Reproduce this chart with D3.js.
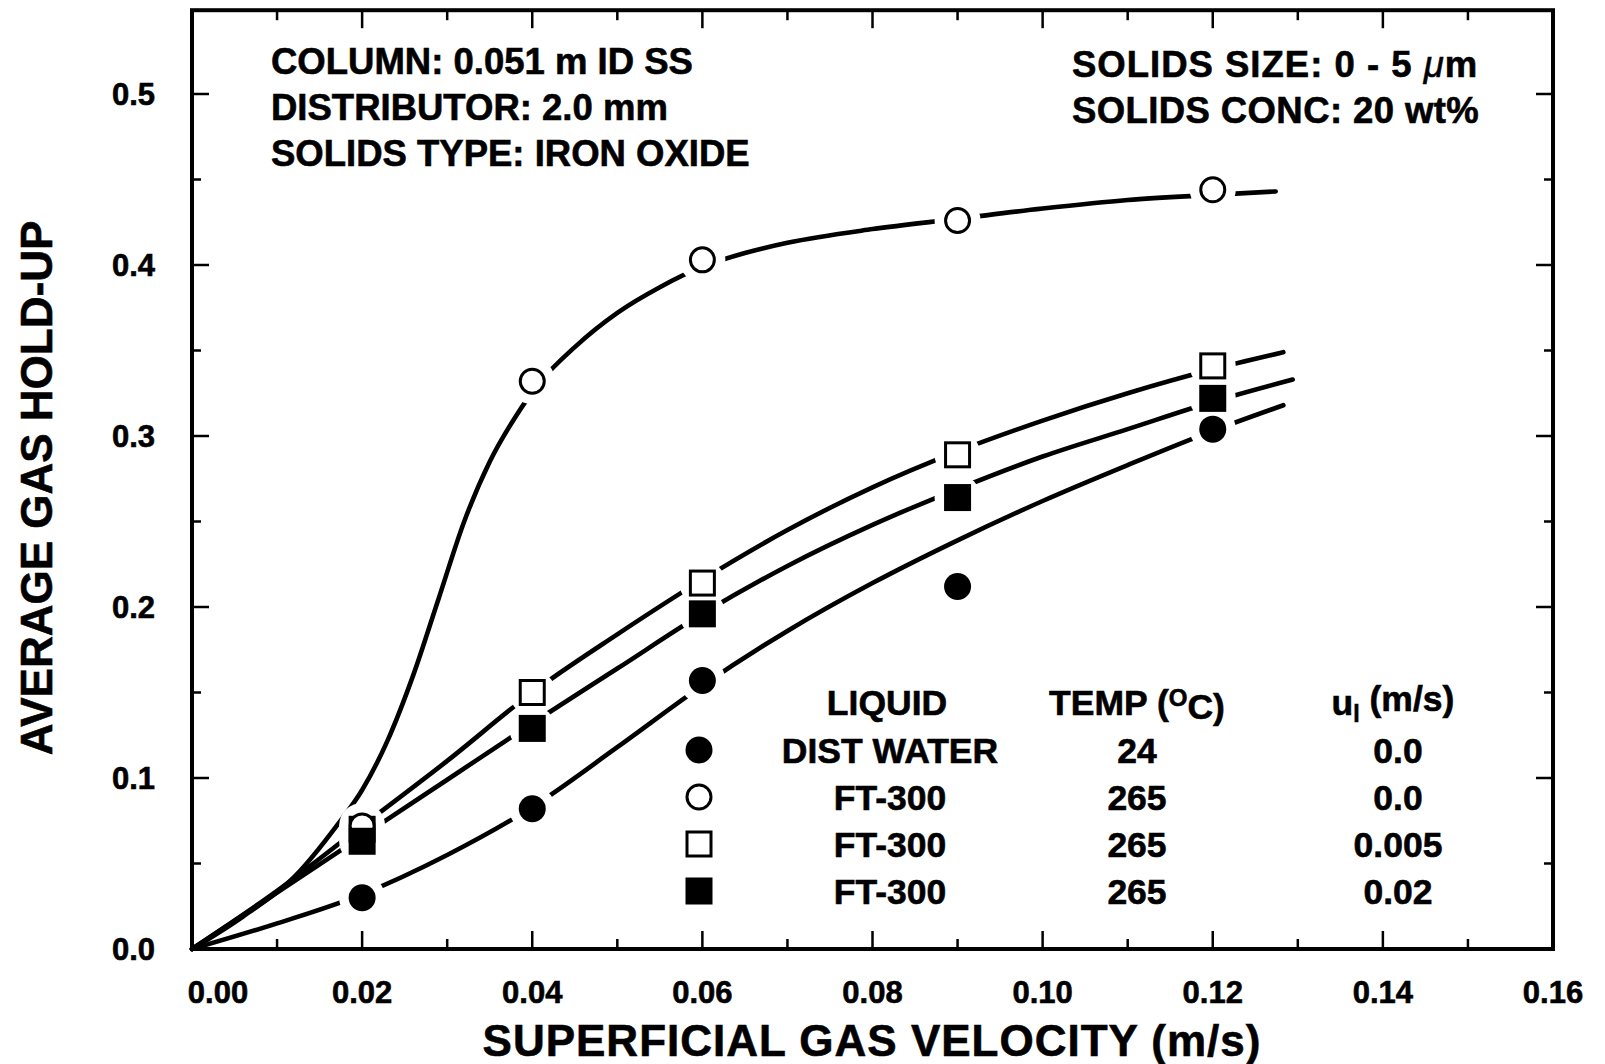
<!DOCTYPE html>
<html>
<head>
<meta charset="utf-8">
<script src="https://cdn.jsdelivr.net/npm/d3@7"></script>
<style>
  body { margin: 0; background: #fff; }
  text { font-family: "Liberation Sans", Arial, Helvetica, sans-serif; font-weight: bold; fill: #000;
         stroke: #000; stroke-width: 0.6px; }
</style>
</head>
<body>
<svg id="chart" width="1605" height="1064"></svg>
<script>
// Measured average gas hold-up at each superficial gas velocity (m/s)
const velocities   = [0.02, 0.04, 0.06, 0.09, 0.12];
const holdupWater  = [0.030, 0.082, 0.157, 0.212, 0.304];   // DIST WATER, 24 C, u_l 0.0
const holdupFt0    = [0.072, 0.332, 0.403, 0.426, 0.444];   // FT-300, 265 C, u_l 0.0
const holdupFt005  = [0.070, 0.150, 0.214, 0.289, 0.341];   // FT-300, 265 C, u_l 0.005
const holdupFt02   = [0.063, 0.129, 0.196, 0.264, 0.322];   // FT-300, 265 C, u_l 0.02

// Smoothed trend lines, [velocity, hold-up]
const fitWater = [[0,0],[0.01,0.015],[0.02,0.032],[0.03,0.055],[0.04,0.083],[0.05,0.118],[0.06,0.154],[0.07,0.186],
  [0.08,0.214],[0.09,0.239],[0.10,0.262],[0.11,0.283],[0.12,0.303],[0.1283,0.318]];
const fitFt0 = [[0,0],[0.006,0.019],[0.012,0.042],[0.017,0.072],[0.02,0.093],[0.023,0.122],[0.026,0.160],[0.029,0.205],
  [0.032,0.250],[0.035,0.285],[0.038,0.311],[0.041,0.332],[0.045,0.352],[0.05,0.372],[0.055,0.387],[0.06,0.399],
  [0.065,0.407],[0.07,0.413],[0.08,0.421],[0.09,0.427],[0.10,0.433],[0.11,0.438],[0.12,0.441],[0.1274,0.443]];
const fitFt005 = [[0,0],[0.01,0.034],[0.02,0.072],[0.03,0.110],[0.04,0.150],[0.05,0.184],[0.06,0.216],[0.07,0.245],
  [0.08,0.270],[0.09,0.291],[0.10,0.309],[0.11,0.325],[0.12,0.339],[0.1283,0.349]];
const fitFt02 = [[0,0],[0.01,0.033],[0.02,0.066],[0.03,0.099],[0.04,0.132],[0.05,0.164],[0.06,0.196],[0.07,0.224],
  [0.08,0.248],[0.09,0.269],[0.10,0.288],[0.11,0.304],[0.12,0.320],[0.1294,0.333]];

// Axis ticks
const xMajorTicks = [0, 0.02, 0.04, 0.06, 0.08, 0.10, 0.12, 0.14, 0.16];
const xMinorTicks = [0.01, 0.03, 0.05, 0.07, 0.09, 0.11, 0.13, 0.15];
const xTickLabels = ["0.00", "0.02", "0.04", "0.06", "0.08", "0.10", "0.12", "0.14", "0.16"];
const yMajorTicks = [0, 0.1, 0.2, 0.3, 0.4, 0.5];
const yMinorTicks = [0.05, 0.15, 0.25, 0.35, 0.45];
const yTickLabels = ["0.0", "0.1", "0.2", "0.3", "0.4", "0.5"];

// Legend table
const legendLiquid = ["DIST WATER", "FT-300", "FT-300", "FT-300"];
const legendTemp   = ["24", "265", "265", "265"];
const legendUl     = ["0.0", "0.0", "0.005", "0.02"];

const series = [
  { values: holdupWater, fit: fitWater, shape: "circle", filled: true },
  { values: holdupFt0,   fit: fitFt0,   shape: "circle", filled: false },
  { values: holdupFt005, fit: fitFt005, shape: "square", filled: false },
  { values: holdupFt02,  fit: fitFt02,  shape: "square", filled: true }
];

const svg = d3.select("#chart");
const x = d3.scaleLinear().domain([0, 0.16]).range([192, 1553]);
const y = d3.scaleLinear().domain([0, 0.5]).range([949, 94]);
const yTop = 0.549;

const markerR = 13.5;
const haloR = 23;

// Trend lines
const line = d3.line().x(d => x(d[0])).y(d => y(d[1])).curve(d3.curveMonotoneX);
svg.append("g").selectAll("path").data(series).join("path")
  .attr("d", s => line(s.fit))
  .attr("fill", "none").attr("stroke", "#000").attr("stroke-width", 4.6)
  .attr("stroke-linecap", "round").attr("stroke-linejoin", "round");

// White halos break the lines around each marker
const points = series.flatMap(s => s.values.map((v, i) => ({ vx: velocities[i], vy: v, s })));
svg.append("g").selectAll("circle").data(points).join("circle")
  .attr("cx", d => x(d.vx)).attr("cy", d => y(d.vy)).attr("r", haloR).attr("fill", "#fff");

function drawMarker(g, cx, cy, s) {
  if (s.shape === "circle") {
    g.append("circle").attr("cx", cx).attr("cy", cy)
      .attr("r", s.filled ? markerR : markerR - 1.5)
      .attr("fill", s.filled ? "#000" : "#fff")
      .attr("stroke", s.filled ? "none" : "#000").attr("stroke-width", 3);
  } else {
    const h = s.filled ? markerR : markerR - 1.5;
    g.append("rect").attr("x", cx - h).attr("y", cy - h).attr("width", 2 * h).attr("height", 2 * h)
      .attr("fill", s.filled ? "#000" : "#fff")
      .attr("stroke", s.filled ? "none" : "#000").attr("stroke-width", 3);
  }
}

const markers = svg.append("g");
// open symbols first, filled on top of them
[series[2], series[1], series[3], series[0]].forEach(s => {
  s.values.forEach((v, i) => drawMarker(markers, x(velocities[i]), y(v), s));
});

// Frame
svg.append("rect")
  .attr("x", x(0)).attr("y", y(yTop))
  .attr("width", x(0.16) - x(0)).attr("height", y(0) - y(yTop))
  .attr("fill", "none").attr("stroke", "#000").attr("stroke-width", 4);

// Inward ticks on all four sides
const ticks = svg.append("g").attr("stroke", "#000").attr("stroke-width", 2.5);
const xTickSet = xMajorTicks.map(v => [v, 18]).concat(xMinorTicks.map(v => [v, 10]));
const yTickSet = yMajorTicks.map(v => [v, 17]).concat(yMinorTicks.map(v => [v, 9]));
xTickSet.forEach(([v, len]) => {
  ticks.append("line").attr("x1", x(v)).attr("x2", x(v)).attr("y1", y(0)).attr("y2", y(0) - len);
  ticks.append("line").attr("x1", x(v)).attr("x2", x(v)).attr("y1", y(yTop)).attr("y2", y(yTop) + len);
});
yTickSet.forEach(([v, len]) => {
  ticks.append("line").attr("x1", x(0)).attr("x2", x(0) + len).attr("y1", y(v)).attr("y2", y(v));
  ticks.append("line").attr("x1", x(0.16)).attr("x2", x(0.16) - len).attr("y1", y(v)).attr("y2", y(v));
});

// Tick labels
svg.append("g").selectAll("text").data(xMajorTicks).join("text")
  .attr("x", (d, i) => x(d) + (i === 0 ? 26 : 0)).attr("y", 1003)
  .attr("text-anchor", "middle").style("font-size", "31px")
  .text((d, i) => xTickLabels[i]);
svg.append("g").selectAll("text").data(yMajorTicks).join("text")
  .attr("x", 155).attr("y", d => y(d)).attr("dy", "0.36em")
  .attr("text-anchor", "end").style("font-size", "31px")
  .text((d, i) => yTickLabels[i]);

// Axis titles
svg.append("text").attr("x", 872).attr("y", 1056).attr("text-anchor", "middle")
  .style("font-size", "44px").style("letter-spacing", "1px")
  .text("SUPERFICIAL GAS VELOCITY (m/s)");
svg.append("text").attr("transform", "translate(52,488) rotate(-90)").attr("text-anchor", "middle")
  .style("font-size", "44px")
  .text("AVERAGE GAS HOLD-UP");

// Run conditions
const note = svg.append("g").style("font-size", "36.5px");
["COLUMN: 0.051 m ID SS", "DISTRIBUTOR: 2.0 mm", "SOLIDS TYPE: IRON OXIDE"].forEach((t, i) => {
  note.append("text").attr("x", 271).attr("y", 74 + i * 46).text(t);
});
const sz = note.append("text").attr("x", 1072).attr("y", 77).style("letter-spacing", "1px");
sz.append("tspan").text("SOLIDS SIZE: 0 - 5 ");
sz.append("tspan").style("font-style", "italic").style("font-weight", "normal").text("\u03bc");
sz.append("tspan").text("m");
note.append("text").attr("x", 1072).attr("y", 123).style("letter-spacing", "0.4px").text("SOLIDS CONC: 20 wt%");

// Legend table
const leg = svg.append("g").style("font-size", "35.5px");
const colLiquid = 890, colTemp = 1137, colUl = 1398, colMark = 699;
const rowY = [702, 750, 797, 844, 891];
leg.append("text").attr("x", 887).attr("y", rowY[0]).attr("dy", "0.36em").attr("text-anchor", "middle").text("LIQUID");
const th = leg.append("text").attr("x", colTemp).attr("y", rowY[0]).attr("dy", "0.36em").attr("text-anchor", "middle");
th.append("tspan").text("TEMP (");
th.append("tspan").attr("dy", "-0.35em").style("font-size", "24px").text("O");
th.append("tspan").attr("dy", "0.35em").text("C)");
const uh = leg.append("text").attr("x", 1393).attr("y", rowY[0]).attr("dy", "0.36em").attr("text-anchor", "middle");
uh.append("tspan").text("u");
uh.append("tspan").attr("dy", "0.3em").style("font-size", "23px").text("l");
uh.append("tspan").attr("dy", "-0.3em").text(" (m/s)");

series.forEach((s, i) => {
  const ry = rowY[i + 1];
  drawMarker(leg, colMark, ry, s);
  leg.append("text").attr("x", colLiquid).attr("y", ry).attr("dy", "0.36em").attr("text-anchor", "middle").text(legendLiquid[i]);
  leg.append("text").attr("x", colTemp).attr("y", ry).attr("dy", "0.36em").attr("text-anchor", "middle").text(legendTemp[i]);
  leg.append("text").attr("x", colUl).attr("y", ry).attr("dy", "0.36em").attr("text-anchor", "middle").text(legendUl[i]);
});
</script>
</body>
</html>
